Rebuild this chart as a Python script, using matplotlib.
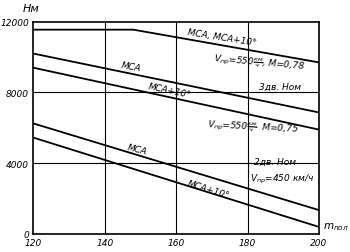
import matplotlib
matplotlib.use("Agg")
import matplotlib.pyplot as plt

# Data
x_top = [120, 148, 200]
h_top = [11550, 11550, 9700]          # МСА, МСА+10°, 3 engines
x_lin = [120, 200]
h_msa_3 = [10200, 6870]               # МСА, V=550, M=0.75
h_msa10_3 = [9400, 5900]              # МСА+10°
h_msa_2 = [6250, 1350]                # 2 engines, МСА
h_msa10_2 = [5450, 400]               # 2 engines, МСА+10°
x_ticks = [120, 140, 160, 180, 200]
y_ticks = [0, 4000, 8000, 12000]
x_grid = [140, 160, 180]
y_grid = [4000, 8000]

plt.rcParams['font.family'] = ['DejaVu Sans']
fig = plt.figure(figsize=(3.5, 2.53), dpi=100)
ax = fig.add_axes([33.3/350, 18/253, (319-33.3)/350, (235-22.7)/253])

for xv in x_grid:
    ax.axvline(xv, color='black', lw=0.8)
for yv in y_grid:
    ax.axhline(yv, color='black', lw=0.8)

lw = 1.3
ax.plot(x_top, h_top, color='black', lw=lw)
ax.plot(x_lin, h_msa_3, color='black', lw=lw)
ax.plot(x_lin, h_msa10_3, color='black', lw=lw)
ax.plot(x_lin, h_msa_2, color='black', lw=lw)
ax.plot(x_lin, h_msa10_2, color='black', lw=lw)

ax.set_xlim(120, 200)
ax.set_ylim(0, 12000)
ax.set_xticks(x_ticks)
ax.set_yticks(y_ticks)
ax.set_xticklabels([str(v) for v in x_ticks], fontsize=6.5, style='italic')
ax.set_yticklabels([str(v) for v in y_ticks], fontsize=6.5, style='italic')
ax.tick_params(length=0, pad=3)
for s in ax.spines.values():
    s.set_linewidth(1.2)

fs = 6.5
kw = dict(ha='center', va='center', fontsize=fs, style='italic')
ax.text(172.9, 11130, 'МСА, МСА+10°', rotation=-9, **kw)
ax.text(183.2, 9722, r'$V_{пр}$=550$\frac{км}{ч}$, M=0,78', rotation=-5, **kw)
ax.text(189.1, 8336, '3дв. Ном', **kw)
ax.text(147.4, 9468, 'МСА', rotation=-10, **kw)
ax.text(158.3, 8139, 'МСА+10°', rotation=-12, **kw)
ax.text(181.6, 6048, r'$V_{пр}$=550$\frac{км}{ч}$  M=0,75', rotation=-3, **kw)
ax.text(187.7, 4126, '2дв. Ном', **kw)
ax.text(189.7, 3165, r'$V_{пр}$=450 км/ч', **kw)
ax.text(149.2, 4805, 'МСА', rotation=-14, **kw)
ax.text(168.9, 2544, 'МСА+10°', rotation=-17, **kw)

fig.text(31/350, 1 - 9/253, 'Нм', ha='center', va='center', fontsize=8, style='italic')
fig.text(336/350, 1 - 227/253, r'$m_{пол}$', ha='center', va='center', fontsize=7.5, style='italic')

fig.savefig('out.png', dpi=100)
